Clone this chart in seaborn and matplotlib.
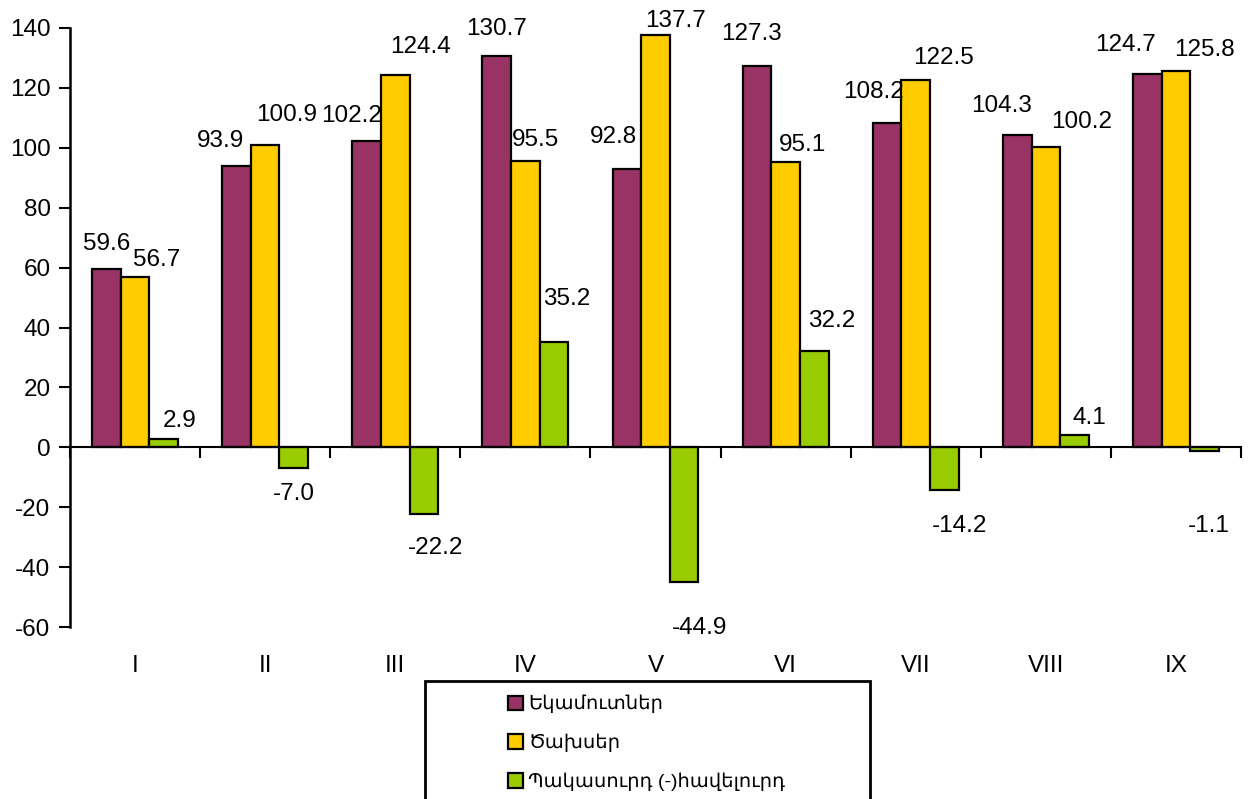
import numpy as np
import pandas as pd
import matplotlib
matplotlib.use('Agg')
import matplotlib.pyplot as plt
from matplotlib.patches import Rectangle
import seaborn as sns

sns.set_style('white')
plt.rcParams['font.family'] = ['Liberation Sans', 'DejaVu Sans']
plt.rcParams['axes.unicode_minus'] = False
plt.rcParams['text.color'] = 'black'
plt.rcParams['ytick.color'] = 'black'
plt.rcParams['xtick.color'] = 'black'
plt.rcParams['axes.edgecolor'] = 'black'

months = ['I', 'II', 'III', 'IV', 'V', 'VI', 'VII', 'VIII', 'IX']
series = ['Եկամուտներ', 'Ծախսեր', 'Պակասուրդ (-)հավելուրդ']
income = [59.6, 93.9, 102.2, 130.7, 92.8, 127.3, 108.2, 104.3, 124.7]
expenses = [56.7, 100.9, 124.4, 95.5, 137.7, 95.1, 122.5, 100.2, 125.8]
balance = [2.9, -7.0, -22.2, 35.2, -44.9, 32.2, -14.2, 4.1, -1.1]
colors = ['#993366', '#FFCC00', '#99CC00']

# label offsets in pixels from the bar end (dx, dy; dy positive = up)
offs_income = [(0, 25), (-16, 25), (-15, 25), (0, 27), (-13, 32), (-5, 32), (-14, 31), (-16, 29), (-22, 29)]
offs_expenses = [(22, 17), (21, 30), (25, 28), (10, 21), (20, 14), (17, 17), (28, 22), (36, 25), (28, 21)]
offs_balance = [(16, 18), (0, -26), (12, -34), (13, 43), (15, -46), (17, 30), (15, -36), (15, 17), (4, -75)]

df = pd.DataFrame({
    'month': months * 3,
    'series': [series[0]] * 9 + [series[1]] * 9 + [series[2]] * 9,
    'value': income + expenses + balance,
})

fig = plt.figure(figsize=(12.48, 7.99), dpi=100)
ax = fig.add_axes([70 / 1248, 1 - 627 / 799, (1241 - 70) / 1248, (627 - 28) / 799])

sns.barplot(data=df, x='month', y='value', hue='series', order=months, hue_order=series,
            palette=colors, saturation=1, width=0.66, edgecolor='black', linewidth=1.6,
            ax=ax, legend=True)

ax.set_ylim(-60, 140)
ax.set_xlim(-0.5, 8.5)
ax.set_yticks(np.arange(-60, 141, 20))
ax.tick_params(axis='y', labelsize=17.5, direction='out', length=8, width=1.5, left=True, pad=6)
ax.set_xlabel('')
ax.set_ylabel('')
for s in ['top', 'right']:
    ax.spines[s].set_visible(False)
ax.spines['left'].set_linewidth(1.8)
ax.spines['bottom'].set_position(('data', 0))
ax.spines['bottom'].set_linewidth(1.5)
ax.set_xticks([])
ax.set_xticks(np.arange(-0.5, 9.0, 1.0), minor=True)
ax.tick_params(axis='x', which='minor', direction='out', length=8, width=1.5, bottom=True)

# month labels below the plot
for i, m in enumerate(months):
    ax.text(i, -73, m, ha='center', va='center', fontsize=17.5,
            transform=ax.transData, clip_on=False)

for cont, vals, offs in zip(ax.containers, [income, expenses, balance],
                            [offs_income, offs_expenses, offs_balance]):
    for bar, v, (dx, dy) in zip(cont, vals, offs):
        xc = bar.get_x() + bar.get_width() / 2
        ax.annotate(f'{v:.1f}', (xc, v), xytext=(dx, dy), textcoords='offset pixels',
                    ha='center', va='center', fontsize=17.5, annotation_clip=False)

handles, labels = ax.get_legend_handles_labels()
ax.get_legend().remove()
fig.legend(handles, labels, loc='upper left', bbox_to_anchor=(0.393, 0.152),
           frameon=False, fontsize=14, handlelength=0.75, handleheight=0.75,
           handletextpad=0.3, labelspacing=1.05)
fig.patches.append(Rectangle((425 / 1248, -0.05), (870 - 425) / 1248, 0.05 + 1 - 681 / 799,
                             transform=fig.transFigure, fill=False, edgecolor='black', linewidth=2))

fig.savefig('out.png', dpi=100)
